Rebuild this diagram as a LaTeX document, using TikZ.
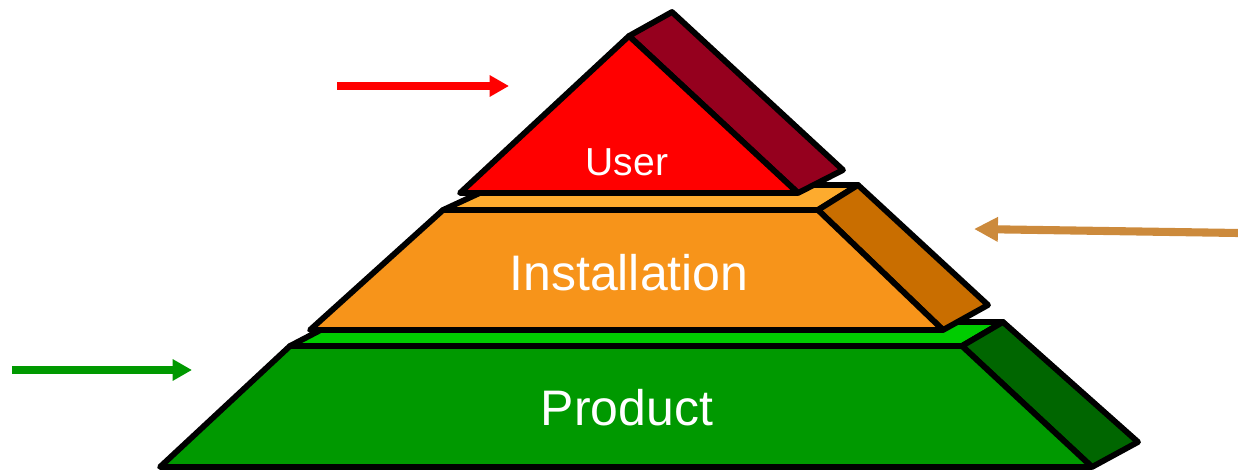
\documentclass[tikz,border=0pt]{standalone}
\usepackage{fontspec}
\setmainfont{Liberation Sans}
\usetikzlibrary{arrows.meta}
\definecolor{userfront}{HTML}{FF0000}
\definecolor{userside}{HTML}{95001E}
\definecolor{insttop}{HTML}{FDAB2E}
\definecolor{instfront}{HTML}{F7941A}
\definecolor{instside}{HTML}{C96E00}
\definecolor{prodtop}{HTML}{00CC00}
\definecolor{prodfront}{HTML}{009900}
\definecolor{prodside}{HTML}{006600}
\definecolor{instarrow}{HTML}{CC8A3C}

\begin{document}
\begin{tikzpicture}[
    x=0.01cm,
    y=-0.01cm,
    line join=round,
    face/.style={draw=black, line width=1.65pt},
    layer text/.style={text=white, inner sep=0pt},
    pointer/.style={line width=2pt, -{Triangle[length=5.5pt, width=5.8pt]}}
]
    \useasboundingbox (0,0) rectangle (1238,470);

    % Product layer
    \filldraw[face, fill=prodtop] (290,346) -- (336,322) -- (1003,322) -- (962,346) -- cycle;
    \filldraw[face, fill=prodside] (962,346) -- (1003,322) -- (1138,442) -- (1092,467) -- cycle;
    \filldraw[face, fill=prodfront] (290,346) -- (962,346) -- (1092,467) -- (160,467) -- cycle;

    % Installation layer
    \filldraw[face, fill=insttop] (443,210) -- (497,185) -- (858,185) -- (818,210) -- cycle;
    \filldraw[face, fill=instside] (818,210) -- (858,185) -- (988,305) -- (943,330) -- cycle;
    \filldraw[face, fill=instfront] (443,210) -- (818,210) -- (943,330) -- (310,330) -- cycle;

    % User layer
    \filldraw[face, fill=userside] (629,36) -- (672,12) -- (843,170) -- (798,193) -- cycle;
    \filldraw[face, fill=userfront] (629,36) -- (798,193) -- (460,193) -- cycle;

    % Labels
    \node[layer text, font=\fontsize{11.1}{13}\selectfont] (user) at (627,162) {User};
    \node[layer text, font=\fontsize{14.2}{17}\selectfont] (installation) at (629,273) {Installation};
    \node[layer text, font=\fontsize{14.2}{17}\selectfont] (product) at (627,408) {Product};

    % Arrows
    \coordinate (user_from) at (337,86);
    \coordinate (user_to) at (509,86);
    \coordinate (inst_from) at (1238,233);
    \coordinate (inst_to) at (974,229);
    \coordinate (prod_from) at (12,370);
    \coordinate (prod_to) at (192,370);

    \draw[pointer, userfront] (user_from) -- (user_to);
    \draw[pointer, instarrow, line width=2.3pt, -{Triangle[length=6.8pt, width=6.6pt]}] (inst_from) -- (inst_to);
    \draw[pointer, prodfront] (prod_from) -- (prod_to);
\end{tikzpicture}
\end{document}
